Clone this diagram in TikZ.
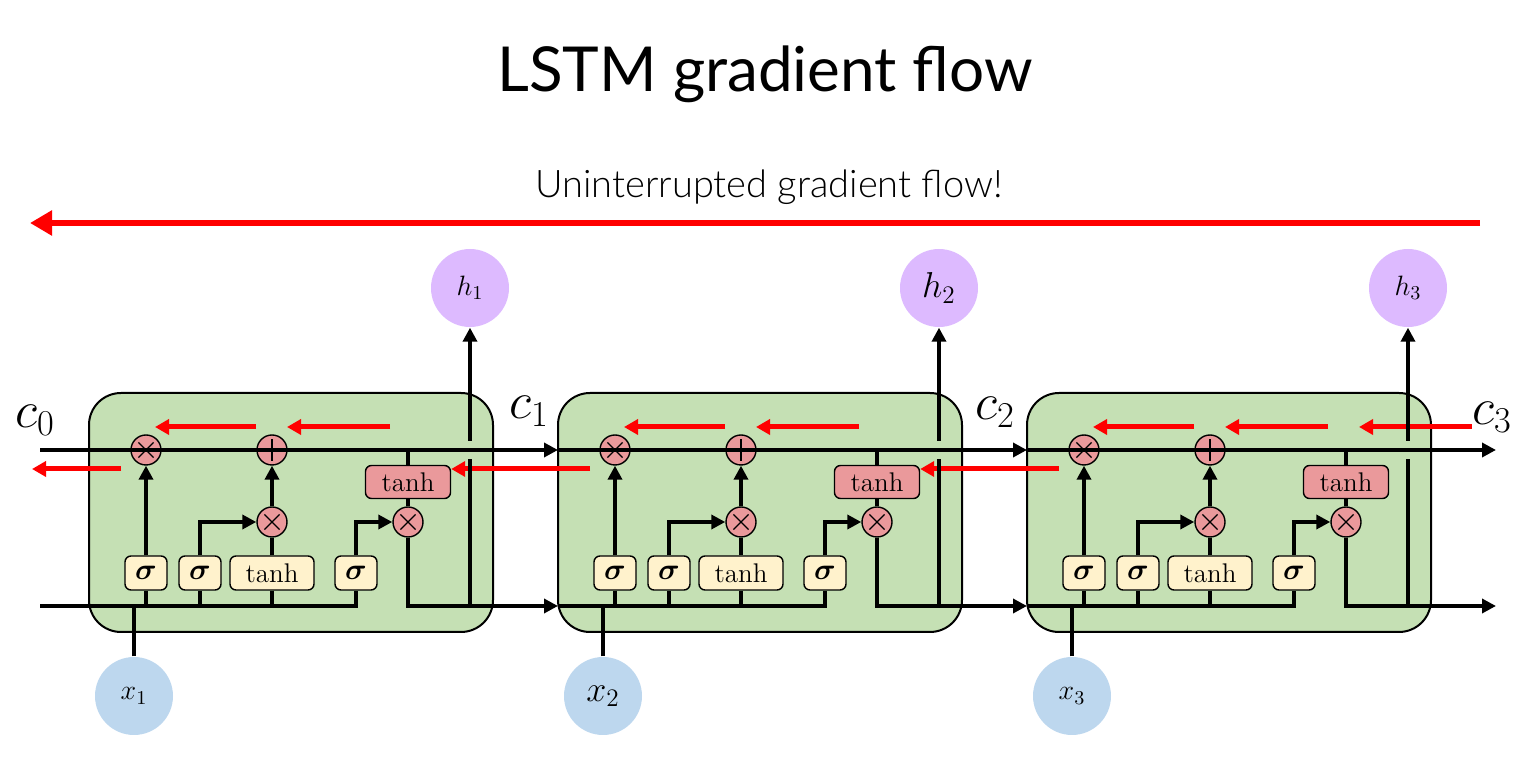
\RequirePackage{fix-cm}
\documentclass[tikz,border=0pt]{standalone}
\usepackage{amsmath}
\usepackage{fontspec}
\newfontfamily\titlefont{Lato}
\newfontfamily\slimfont{Lato Light}
\usetikzlibrary{arrows.meta}
\definecolor{cellgreen}{RGB}{197,224,180}
\definecolor{gatefill}{RGB}{255,242,204}
\definecolor{opred}{RGB}{234,153,155}
\definecolor{hpurple}{RGB}{221,186,255}
\definecolor{xblue}{RGB}{189,215,238}
\pgfdeclarelayer{bg}
\pgfdeclarelayer{flow}
\pgfsetlayers{bg,flow,main}

\begin{document}
\begin{tikzpicture}[
    x={(0.5pt,0)}, y={(0,-0.5pt)},
    >={Triangle[length=7pt,width=7pt]},
    every node/.style={inner sep=0pt,line width=0.7pt},
    wire/.style={line width=1.9pt},
    cellbox/.style={draw,line width=1pt,fill=cellgreen,rounded corners=16pt,
        minimum width=202pt,minimum height=119.5pt},
    gatebox/.style={draw,fill=gatefill,rounded corners=3pt,minimum width=21pt,
        minimum height=17pt,font=\fontsize{15}{16}\selectfont},
    widebox/.style={gatebox,minimum width=42pt,font=\fontsize{13.5}{15}\selectfont},
    actbox/.style={widebox,fill=opred,minimum width=42.5pt,minimum height=16.5pt},
    opnode/.style={circle,draw,fill=opred,minimum size=15pt},
    mult/.style={opnode,path picture={
        \draw[line width=0.6pt]
            ([shift={(-3.8pt,-3.8pt)}]path picture bounding box.center) --
            ([shift={(3.8pt,3.8pt)}]path picture bounding box.center)
            ([shift={(-3.8pt,3.8pt)}]path picture bounding box.center) --
            ([shift={(3.8pt,-3.8pt)}]path picture bounding box.center);}},
    sum/.style={opnode,path picture={
        \draw[line width=0.6pt]
            ([xshift=-5.4pt]path picture bounding box.center) --
            ([xshift=5.4pt]path picture bounding box.center)
            ([yshift=-5.4pt]path picture bounding box.center) --
            ([yshift=5.4pt]path picture bounding box.center);}},
    hnode/.style={circle,fill=hpurple,minimum size=39pt},
    xnode/.style={circle,fill=xblue,minimum size=39pt},
    clabel/.style={font=\fontsize{26}{28}\selectfont},
    flow/.style={->,red,line width=2.5pt,>={Triangle[length=7pt,width=7.5pt]}}]
    \useasboundingbox (0,0) rectangle (1517,758);

    % Titulos
    \node[anchor=base,font=\titlefont\fontsize{31}{36}\selectfont] (title)
        at (765,92) {LSTM gradient flow};
    \node[anchor=base,font=\slimfont\fontsize{19}{22}\selectfont] (subtitle)
        at (769,198) {Uninterrupted gradient flow!};
    \coordinate (flowstart) at (1480,223);
    \coordinate (flowend) at (30,223);
    \draw[flow,line width=3pt,>={Triangle[length=11pt,width=12pt]}]
        (flowstart) -- (flowend);

    % Estados de celda
    \node[clabel] (c0) at (35,420) {$c_0$};
    \node[clabel] (c1) at (529,411) {$c_1$};
    \node[clabel] (c2) at (995,412) {$c_2$};
    \node[clabel] (c3) at (1492,417) {$c_3$};

    % Celdas LSTM
    \foreach \i/\xin/\hx/\hfont in {1/40/h_1/14,2/558/h_2/18,3/1027/h_3/14} {
        \pgfmathsetmacro\d{469*(\i-1)}
        \pgfmathtruncatemacro\prev{\i-1}
        \begin{pgfonlayer}{bg}
            \node[cellbox] (cell\i) at (291+\d,512.5) {};
        \end{pgfonlayer}

        \node[mult] (f\i) at (146+\d,450) {};
        \node[sum] (p\i) at (272+\d,450) {};
        \node[mult] (m\i) at (272+\d,522) {};
        \node[mult] (o\i) at (408+\d,522) {};
        \node[actbox] (T\i) at (408+\d,482) {tanh};
        \node[gatebox] (s1\i) at (146+\d,573) {$\boldsymbol{\sigma}$};
        \node[gatebox] (s2\i) at (200+\d,573) {$\boldsymbol{\sigma}$};
        \node[widebox] (g\i) at (272+\d,573) {tanh};
        \node[gatebox] (s3\i) at (356+\d,573) {$\boldsymbol{\sigma}$};
        \node[hnode,font=\fontsize{\hfont}{\hfont}\selectfont] (h\i)
            at (470+\d,288) {$\hx$};
        \node[xnode,font=\fontsize{\hfont}{\hfont}\selectfont] (x\i)
            at (134+\d,696) {$x_\i$};
        \coordinate (b\i) at (\xin,606);

        % Flujo del gradiente
        \begin{pgfonlayer}{flow}
            \draw[flow] (390+\d,427) -- (287+\d,427);
            \draw[flow] (256+\d,427) -- (155+\d,427);
            \ifnum\i=1
                \coordinate (back\i) at (32,469);
            \else
                \coordinate (back\i) at (T\prev.east |- 0,469);
            \fi
            \draw[flow] (121+\d,469) -- (back\i);
        \end{pgfonlayer}

        \draw[wire,->] (\xin,450) -- (558+\d,450);
        \draw[wire] (b\i) -| (s3\i.south);
        \foreach \gate in {s1,s2,g} {
            \draw[wire] (\gate\i.south) -- (\gate\i.south |- b\i);
        }
        \draw[wire] (x\i.north) -- (x\i.north |- b\i);
        \draw[wire,->] (s1\i.north) -- (f\i.south);
        \draw[wire,->] (s2\i.north) |- (m\i.west);
        \draw[wire] (g\i.north) -- (m\i.south);
        \draw[wire,->] (m\i.north) -- (p\i.south);
        \draw[wire,->] (s3\i.north) |- (o\i.west);
        \draw[wire] (T\i.north) -- (T\i.north |- 0,450);
        \draw[wire] (T\i.south) -- (o\i.north);
        \draw[wire,->] (o\i.south) |- (558+\d,606);
        \draw[wire] (h\i.south |- b\i) -- (h\i.south |- 0,459);
        \draw[wire,->] (h\i.south |- 0,441) -- (h\i.south);
    }
    \begin{pgfonlayer}{flow}
        \draw[flow] (1472,427) -- (1359,427);
    \end{pgfonlayer}
\end{tikzpicture}
\end{document}
